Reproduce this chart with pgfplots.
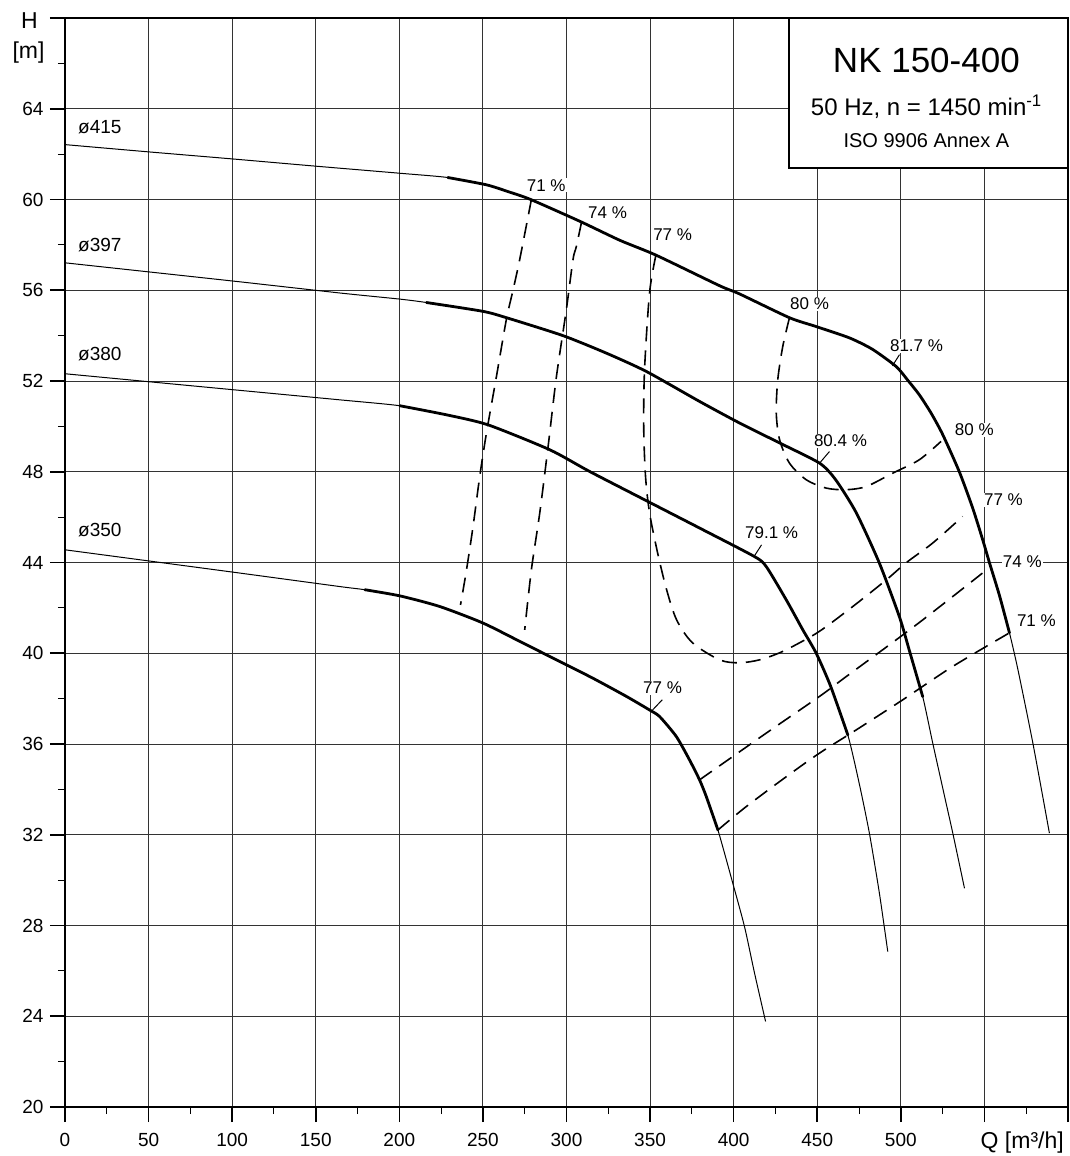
\documentclass[border=0pt]{standalone}
\usepackage{fontspec}
\setmainfont{Liberation Sans}
\usepackage{pgfplots}
\pgfplotsset{compat=1.18}
\begin{document}
\begin{tikzpicture}
\begin{axis}[
  scale only axis, width=1003pt, height=1089pt,
  xmin=0, xmax=600, ymin=20, ymax=68,
  xtick={0,50,...,600}, ytick={20,24,...,68},
  minor xtick={25,75,...,575}, minor ytick={22,26,...,66},
  xticklabels={0,50,100,150,200,250,300,350,400,450,500,{},{}},
  yticklabels={20,24,28,32,36,40,44,48,52,56,60,64,{}},
  xtick pos=bottom, ytick pos=left,
  tick align=outside,
  major tick length=15pt, minor tick length=7pt,
  major tick style={black, line width=1.6pt},
  minor tick style={black, line width=1pt},
  grid=major,
  major grid style={black!80, line width=0.9pt},
  axis line style={line width=2pt},
  tick label style={font=\fontsize{19}{22}\selectfont},
  xticklabel style={yshift=-8pt},
  yticklabel style={xshift=-3pt},
  /pgf/number format/assume math mode=true,
  clip=false,
]
\coordinate (SW) at (rel axis cs:0,0);
% --- impeller curves: thin full, thick operating range ---
\addplot[black, line width=1pt, smooth, tension=0.4] coordinates {(0,62.42)(50,62.10)(100,61.79)(150,61.47)(200,61.16)(229,60.97)(252,60.65)(265,60.35)(278.6,60.0)(308,59.04)(332,58.2)(353.5,57.55)(391.6,56.2)(403.5,55.84)(433.4,54.79)(449.4,54.4)(469.3,53.9)(483,53.4)(497.2,52.64)(504,52.05)(511,51.4)(518,50.6)(525,49.65)(535,48.0)(543,46.4)(549,45.0)(553,44.0)(559,42.55)(565,40.9)(570,39.3)(579,36.04)(588.9,32.07)};
\addplot[black, line width=2.8pt, smooth, tension=0.4, line cap=round] coordinates {(229,60.97)(252,60.65)(265,60.35)(278.6,60.0)(308,59.04)(332,58.2)(353.5,57.55)(391.6,56.2)(403.5,55.84)(433.4,54.79)(449.4,54.4)(469.3,53.9)(483,53.4)(497.2,52.64)(504,52.05)(511,51.4)(518,50.6)(525,49.65)(535,48.0)(543,46.4)(549,45.0)(553,44.0)(559,42.55)(565,40.9)};

\addplot[black, line width=1pt, smooth, tension=0.4] coordinates {(0,57.21)(100,56.41)(164.4,55.88)(200.3,55.61)(216.2,55.46)(250.1,55.07)(265,54.77)(297.9,54.0)(323.8,53.23)(347.8,52.42)(379.6,51.1)(403.5,50.15)(427.5,49.27)(451.4,48.38)(461,47.65)(473.3,46.2)(487.2,43.97)(499.2,41.6)(505.2,40.1)(513.1,38.09)(519.1,36.04)(527.1,33.39)(531.1,32.07)(538.1,29.64)};
\addplot[black, line width=2.8pt, smooth, tension=0.4, line cap=round] coordinates {(216.2,55.46)(250.1,55.07)(265,54.77)(297.9,54.0)(323.8,53.23)(347.8,52.42)(379.6,51.1)(403.5,50.15)(427.5,49.27)(451.4,48.38)(461,47.65)(473.3,46.2)(487.2,43.97)(499.2,41.6)(505.2,40.1)(513.1,38.09)};

\addplot[black, line width=1pt, smooth, tension=0.4] coordinates {(0,52.32)(100,51.62)(164.4,51.17)(200.3,50.91)(228.2,50.51)(253,50.07)(290,48.97)(313.9,48.01)(348.7,46.69)(379.6,45.52)(412.5,44.26)(419.5,43.82)(431.5,42.35)(441.4,41.03)(449.4,40.0)(458,38.55)(468.3,36.4)(475.3,34.2)(481.2,32.07)(487.2,29.42)(492.2,26.85)};
\addplot[black, line width=2.8pt, smooth, tension=0.4, line cap=round] coordinates {(200.3,50.91)(228.2,50.51)(253,50.07)(290,48.97)(313.9,48.01)(348.7,46.69)(379.6,45.52)(412.5,44.26)(419.5,43.82)(431.5,42.35)(441.4,41.03)(449.4,40.0)(458,38.55)(468.3,36.4)};

\addplot[black, line width=1pt, smooth, tension=0.4] coordinates {(0,44.56)(100,43.58)(164.4,42.94)(179.4,42.80)(200.3,42.53)(224.2,42.06)(250.1,41.33)(274,40.45)(295.9,39.64)(315.8,38.9)(335.8,38.1)(349.7,37.5)(355.7,37.21)(365.7,36.33)(373.6,35.3)(379.6,34.42)(383.6,33.69)(390.6,32.21)(399.5,29.86)(406.5,27.95)(412.5,25.9)(419.1,23.77)};
\addplot[black, line width=2.8pt, smooth, tension=0.4, line cap=round] coordinates {(179.4,42.80)(200.3,42.53)(224.2,42.06)(250.1,41.33)(274,40.45)(295.9,39.64)(315.8,38.9)(335.8,38.1)(349.7,37.5)(355.7,37.21)(365.7,36.33)(373.6,35.3)(379.6,34.42)(383.6,33.69)(390.6,32.21)};

% --- iso-efficiency curves ---
\addplot[black, line width=1.6pt, dash pattern=on 15pt off 9pt, smooth, tension=0.5] coordinates {(279,60.0)(272,57.35)(268,56.0)(264,54.7)(258.1,52.2)(252.1,49.7)(248.1,47.79)(244.1,45.59)(240.2,43.68)(236.6,42.13)};
\addplot[black, line width=1.6pt, dash pattern=on 15pt off 9pt, smooth, tension=0.5] coordinates {(309,59.0)(305.9,57.93)(303.9,57.35)(299.9,55.14)(294,52.2)(289,49.11)(284,46.18)(279,43.68)(275,41.03)};
\addplot[black, line width=1.6pt, dash pattern=on 15pt off 9pt, smooth, tension=0.5] coordinates {(353.5,57.55)(349.7,55.89)(346.7,52.5)(346.2,49.98)(347.3,47.78)(349.7,46.19)(354.5,44.43)(359.9,42.80)(365.9,41.47)(375.4,40.46)(391.6,39.71)(403.5,39.58)(415.5,39.71)(427.5,40.02)(439.4,40.46)(452,41.0)(471.1,42.05)(491.4,43.24)(503.4,44.0)(519.1,44.86)(537,46.03)};
\addplot[black, line width=1.6pt, dash pattern=on 15pt off 9pt, smooth, tension=0.5] coordinates {(433.4,54.79)(429.4,53.53)(426.4,52.06)(425.5,50.59)(427.5,49.41)(433.4,48.38)(443.4,47.65)(455.4,47.28)(467.3,47.21)(479.3,47.35)(495.2,47.94)(511.1,48.53)(524.1,49.34)};
\addplot[black, line width=1.6pt, dash pattern=on 15pt off 9pt, smooth, tension=0.5] coordinates {(379.6,34.42)(419.5,36.48)(451.4,38.10)(467.3,38.97)(509.2,41.25)(548.8,43.53)};
\addplot[black, line width=1.6pt, dash pattern=on 15pt off 9pt, smooth, tension=0.5] coordinates {(390.6,32.21)(407.5,33.24)(431.5,34.56)(451.4,35.60)(473.3,36.62)(501.2,37.95)(531.1,39.42)(565,40.9)};

% --- leader lines ---
\addplot[black, line width=1pt] coordinates {(412.5,44.3)(416.7,44.78)};
\addplot[black, line width=1pt] coordinates {(451.4,48.38)(457.3,48.89)};
\addplot[black, line width=1pt] coordinates {(495,52.67)(499.2,53.16)};
\addplot[black, line width=1pt] coordinates {(351.5,37.5)(357.3,37.95)};

% --- labels ---
\begin{scope}[every node/.style={font=\fontsize{17}{20}\selectfont, fill=white, inner sep=1pt}]
\node at (axis cs:287.9,60.63) {71 \%};
\node at (axis cs:324.6,59.42) {74 \%};
\node at (axis cs:363.5,58.45) {77 \%};
\node at (axis cs:445.4,55.40) {80 \%};
\node at (axis cs:509.4,53.55) {81.7 \%};
\node at (axis cs:463.9,49.37) {80.4 \%};
\node at (axis cs:544.0,49.85) {80 \%};
\node at (axis cs:561.4,46.76) {77 \%};
\node at (axis cs:572.7,44.03) {74 \%};
\node at (axis cs:581.1,41.43) {71 \%};
\node at (axis cs:422.7,45.31) {79.1 \%};
\node at (axis cs:357.5,38.47) {77 \%};
\end{scope}
\begin{scope}[every node/.style={font=\fontsize{19}{22}\selectfont, inner sep=0pt, anchor=west}]
\node at (axis cs:7.8,63.21) {ø415};
\node at (axis cs:7.8,58.00) {ø397};
\node at (axis cs:7.8,53.20) {ø380};
\node at (axis cs:7.8,45.44) {ø350};
\end{scope}

% --- title box ---
\draw[line width=2.5pt, fill=white] (axis cs:433,61.4) rectangle (axis cs:600,68);
\node[anchor=base, inner sep=0pt, font=\fontsize{35}{40}\selectfont] at (axis cs:515.3,65.59) {NK 150-400};
\node[anchor=base, inner sep=0pt, font=\fontsize{24}{28}\selectfont] at (axis cs:515.3,63.69) {50 Hz, n = 1450 min\textsuperscript{-1}};
\node[anchor=base, inner sep=0pt, font=\fontsize{20}{24}\selectfont] at (axis cs:515.3,62.28) {ISO 9906 Annex A};

% --- axis names ---
\node[anchor=base, inner sep=0pt, font=\fontsize{23}{26}\selectfont, xshift=-35.5pt, yshift=-10pt] at (rel axis cs:0,1) {H};
\node[anchor=base, inner sep=0pt, font=\fontsize{23}{26}\selectfont, xshift=-36.5pt, yshift=-40pt] at (rel axis cs:0,1) {[m]};
\node[anchor=base east, inner sep=0pt, font=\fontsize{23}{26}\selectfont, xshift=-4pt, yshift=-41pt] at (rel axis cs:1,0) {Q [m³/h]};
\end{axis}
\pgfresetboundingbox
\path[use as bounding box] (SW) ++(-65pt,-49pt) rectangle ++(1069pt,1156pt);
\end{tikzpicture}
\end{document}
